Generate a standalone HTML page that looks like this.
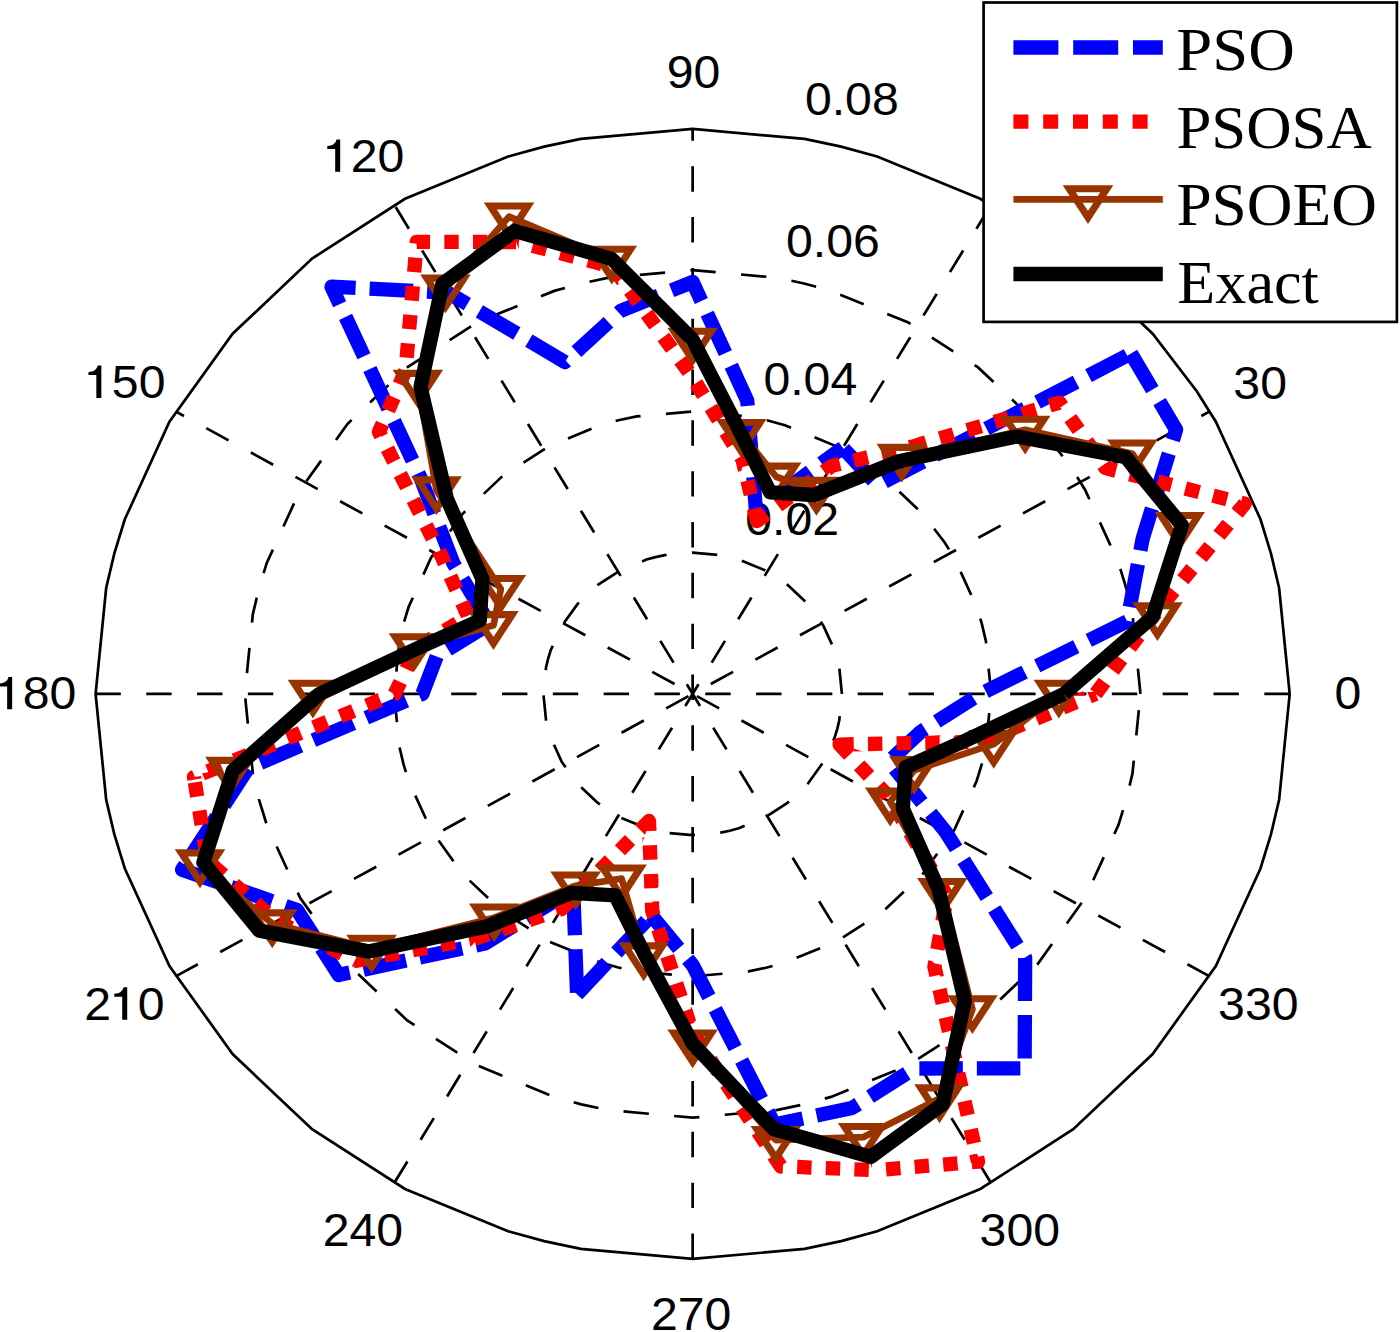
<!DOCTYPE html><html><head><meta charset="utf-8"><style>html,body{margin:0;padding:0;background:#fff;overflow:hidden}svg{display:block}</style></head><body>
<svg width="1400" height="1332" viewBox="0 0 1400 1332">
<rect width="1400" height="1332" fill="#fff"/>
<defs><clipPath id="rc0"><polygon points="692.65,693.90 2483.78,702.77 2482.29,624.40 2476.98,546.17 2467.86,468.26 2454.94,390.83"/></clipPath><clipPath id="rc1"><polygon points="692.65,693.90 2458.19,408.31 2442.35,331.37 2422.77,255.20 2399.48,179.97 2372.55,105.84"/></clipPath><clipPath id="rc2"><polygon points="692.65,693.90 2378.96,122.52 2349.25,49.35 2315.98,-22.44 2279.25,-92.70 2239.12,-161.27"/></clipPath><clipPath id="rc3"><polygon points="692.65,693.90 2248.50,-145.90 2205.80,-213.08 2159.87,-278.31 2110.81,-341.47 2058.70,-402.41"/></clipPath><clipPath id="rc4"><polygon points="692.65,693.90 2070.76,-388.81 2016.39,-447.95 1959.18,-504.65 1899.27,-558.78 1836.78,-610.23"/></clipPath><clipPath id="rc5"><polygon points="692.65,693.90 1851.15,-598.82 1786.75,-648.13 1720.01,-694.56 1651.08,-738.03 1580.09,-778.43"/></clipPath><clipPath id="rc6"><polygon points="692.65,693.90 1596.33,-769.56 1519.73,-809.58 1441.15,-846.01 1360.78,-878.76 1278.82,-907.77"/></clipPath><clipPath id="rc7"><polygon points="692.65,693.90 1296.51,-901.87 1232.65,-922.24 1168.02,-940.31 1102.72,-956.08 1036.84,-969.51"/></clipPath><clipPath id="rc8"><polygon points="692.65,693.90 1055.23,-966.01 963.09,-981.67 870.22,-992.75 776.86,-999.23 683.27,-1001.08"/></clipPath><clipPath id="rc9"><polygon points="692.65,693.90 702.03,-1001.08 619.21,-999.67 536.54,-994.65 454.21,-986.01 372.39,-973.79"/></clipPath><clipPath id="rc10"><polygon points="692.65,693.90 390.86,-976.87 309.55,-961.88 229.07,-943.34 149.57,-921.31 71.24,-895.82"/></clipPath><clipPath id="rc11"><polygon points="692.65,693.90 88.86,-901.89 11.54,-873.77 -64.32,-842.29 -138.57,-807.53 -211.03,-769.56"/></clipPath><clipPath id="rc12"><polygon points="692.65,693.90 -194.79,-778.43 -265.78,-738.03 -334.71,-694.56 -401.45,-648.13 -465.85,-598.82"/></clipPath><clipPath id="rc13"><polygon points="692.65,693.90 -451.48,-610.23 -505.72,-565.85 -558.04,-519.45 -608.36,-471.11 -656.59,-420.89"/></clipPath><clipPath id="rc14"><polygon points="692.65,693.90 -644.18,-434.20 -704.86,-366.31 -761.69,-295.49 -814.52,-221.96 -863.20,-145.90"/></clipPath><clipPath id="rc15"><polygon points="692.65,693.90 -853.82,-161.27 -893.95,-92.70 -930.68,-22.44 -963.95,49.35 -993.66,122.52"/></clipPath><clipPath id="rc16"><polygon points="692.65,693.90 -987.25,105.84 -1014.18,179.97 -1037.47,255.20 -1057.05,331.37 -1072.89,408.31"/></clipPath><clipPath id="rc17"><polygon points="692.65,693.90 -1069.64,390.83 -1082.56,468.26 -1091.68,546.17 -1096.99,624.40 -1098.48,702.77"/></clipPath><clipPath id="rc18"><polygon points="692.65,693.90 -1098.48,685.03 -1096.99,763.40 -1091.68,841.63 -1082.56,919.54 -1069.64,996.97"/></clipPath><clipPath id="rc19"><polygon points="692.65,693.90 -1072.89,979.49 -1057.05,1056.43 -1037.47,1132.60 -1014.18,1207.83 -987.25,1281.96"/></clipPath><clipPath id="rc20"><polygon points="692.65,693.90 -993.66,1265.28 -963.95,1338.45 -930.68,1410.24 -893.95,1480.50 -853.82,1549.07"/></clipPath><clipPath id="rc21"><polygon points="692.65,693.90 -863.20,1533.70 -820.50,1600.88 -774.57,1666.11 -725.51,1729.27 -673.40,1790.21"/></clipPath><clipPath id="rc22"><polygon points="692.65,693.90 -685.46,1776.61 -631.09,1835.75 -573.88,1892.45 -513.97,1946.58 -451.48,1998.03"/></clipPath><clipPath id="rc23"><polygon points="692.65,693.90 -465.85,1986.62 -401.45,2035.93 -334.71,2082.36 -265.78,2125.83 -194.79,2166.23"/></clipPath><clipPath id="rc24"><polygon points="692.65,693.90 -211.03,2157.36 -124.72,2202.12 -35.93,2242.34 55.05,2277.87 147.97,2308.63"/></clipPath><clipPath id="rc25"><polygon points="692.65,693.90 130.13,2303.14 194.35,2321.99 259.27,2338.54 324.81,2352.77 390.86,2364.67"/></clipPath><clipPath id="rc26"><polygon points="692.65,693.90 372.39,2361.59 454.21,2373.81 536.54,2382.45 619.21,2387.47 702.03,2388.88"/></clipPath><clipPath id="rc27"><polygon points="692.65,693.90 683.27,2388.88 766.09,2387.47 848.76,2382.45 931.09,2373.81 1012.91,2361.59"/></clipPath><clipPath id="rc28"><polygon points="692.65,693.90 994.44,2364.67 1075.75,2349.68 1156.23,2331.14 1235.73,2309.11 1314.06,2283.62"/></clipPath><clipPath id="rc29"><polygon points="692.65,693.90 1296.44,2289.69 1373.76,2261.57 1449.62,2230.09 1523.87,2195.33 1596.33,2157.36"/></clipPath><clipPath id="rc30"><polygon points="692.65,693.90 1580.09,2166.23 1651.08,2125.83 1720.01,2082.36 1786.75,2035.93 1851.15,1986.62"/></clipPath><clipPath id="rc31"><polygon points="692.65,693.90 1836.78,1998.03 1899.27,1946.58 1959.18,1892.45 2016.39,1835.75 2070.76,1776.61"/></clipPath><clipPath id="rc32"><polygon points="692.65,693.90 2058.70,1790.21 2115.45,1723.55 2168.57,1654.26 2217.92,1582.52 2263.38,1508.51"/></clipPath><clipPath id="rc33"><polygon points="692.65,693.90 2254.28,1524.04 2289.73,1461.26 2322.37,1397.13 2352.13,1331.77 2378.96,1265.28"/></clipPath><clipPath id="rc34"><polygon points="692.65,693.90 2372.55,1281.96 2399.48,1207.83 2422.77,1132.60 2442.35,1056.43 2458.19,979.49"/></clipPath><clipPath id="rc35"><polygon points="692.65,693.90 2454.94,996.97 2467.86,919.54 2476.98,841.63 2482.29,763.40 2483.78,685.03"/></clipPath></defs>
<polyline points="1289.70,693.90 1279.12,588.03 1270.94,553.39 1260.48,519.31 1215.85,421.71 1196.76,391.16 1152.68,333.76 1073.22,258.56 980.28,198.79 877.15,156.55 841.13,146.65 804.53,138.91 692.65,128.90 580.77,138.91 544.17,146.65 508.15,156.55 405.02,198.79 312.08,258.56 232.62,333.76 169.45,421.71 124.82,519.31 114.36,553.39 106.18,588.03 95.60,693.90 106.18,799.77 114.36,834.41 124.82,868.49 169.45,966.09 232.62,1054.04 312.08,1129.24 405.02,1189.01 508.15,1231.25 544.17,1241.15 580.77,1248.89 692.65,1258.90 804.53,1248.89 841.13,1241.15 877.15,1231.25 980.28,1189.01 1073.22,1129.24 1152.68,1054.04 1215.85,966.09 1260.48,868.49 1270.94,834.41 1279.12,799.77 1289.70,693.90" fill="#fff" stroke="#000" stroke-width="2.7"/>
<polyline points="841.91,693.90 839.27,667.43 837.22,658.77 834.61,650.25 823.45,625.85 818.68,618.21 807.66,603.86 787.79,585.07 764.56,570.12 738.77,559.56 729.77,557.09 720.62,555.15 692.65,552.65 664.68,555.15 655.53,557.09 646.53,559.56 620.74,570.12 597.51,585.07 577.64,603.86 561.85,625.85 550.69,650.25 548.08,658.77 546.03,667.43 543.39,693.90 546.03,720.37 548.08,729.03 550.69,737.55 561.85,761.95 577.64,783.94 597.51,802.73 620.74,817.68 646.53,828.24 655.53,830.71 664.68,832.65 692.65,835.15 720.62,832.65 729.77,830.71 738.77,828.24 764.56,817.68 787.79,802.73 807.66,783.94 823.45,761.95 834.61,737.55 837.22,729.03 839.27,720.37 841.91,693.90" fill="none" stroke="#000" stroke-width="2.7" stroke-dasharray="25.41 25.41"/>
<polyline points="991.17,693.90 985.89,640.96 981.80,623.65 976.56,606.60 954.25,557.80 944.70,542.53 922.67,513.83 882.94,476.23 836.47,446.34 784.90,425.23 766.89,420.28 748.59,416.40 692.65,411.40 636.71,416.40 618.41,420.28 600.40,425.23 548.83,446.34 502.36,476.23 462.63,513.83 431.05,557.80 408.74,606.60 403.50,623.65 399.41,640.96 394.12,693.90 399.41,746.84 403.50,764.15 408.74,781.20 431.05,830.00 462.63,873.97 502.36,911.57 548.83,941.46 600.40,962.57 618.41,967.52 636.71,971.40 692.65,976.40 748.59,971.40 766.89,967.52 784.90,962.57 836.47,941.46 882.94,911.57 922.67,873.97 954.25,830.00 976.56,781.20 981.80,764.15 985.89,746.84 991.17,693.90" fill="none" stroke="#000" stroke-width="2.7" stroke-dasharray="25.41 25.41"/>
<polyline points="1140.44,693.90 1132.51,614.50 1126.37,588.52 1118.52,562.95 1085.05,489.76 1070.73,466.84 1037.68,423.79 978.08,367.40 908.37,322.57 831.02,290.89 804.01,283.46 776.56,277.66 692.65,270.15 608.74,277.66 581.29,283.46 554.28,290.89 476.93,322.57 407.22,367.40 347.62,423.79 300.25,489.76 266.78,562.95 258.93,588.52 252.79,614.50 244.86,693.90 252.79,773.30 258.93,799.28 266.78,824.85 300.25,898.04 347.62,964.01 407.22,1020.40 476.93,1065.23 554.28,1096.91 581.29,1104.34 608.74,1110.14 692.65,1117.65 776.56,1110.14 804.01,1104.34 831.02,1096.91 908.37,1065.23 978.08,1020.40 1037.68,964.01 1085.05,898.04 1118.52,824.85 1126.37,799.28 1132.51,773.30 1140.44,693.90" fill="none" stroke="#000" stroke-width="2.7" stroke-dasharray="25.41 25.41"/>
<line x1="175.59" y1="976.40" x2="1209.71" y2="411.40" stroke="#000" stroke-width="2.7" stroke-dasharray="25.41 25.41"/>
<line x1="394.12" y1="1183.20" x2="991.17" y2="204.60" stroke="#000" stroke-width="2.7" stroke-dasharray="25.41 25.41"/>
<line x1="692.65" y1="1258.90" x2="692.65" y2="128.90" stroke="#000" stroke-width="2.7" stroke-dasharray="25.41 25.41"/>
<line x1="991.17" y1="1183.20" x2="394.13" y2="204.60" stroke="#000" stroke-width="2.7" stroke-dasharray="25.41 25.41"/>
<line x1="1209.71" y1="976.40" x2="175.59" y2="411.40" stroke="#000" stroke-width="2.7" stroke-dasharray="25.41 25.41"/>
<line x1="1289.70" y1="693.90" x2="95.60" y2="693.90" stroke="#000" stroke-width="2.7" stroke-dasharray="25.41 25.41"/>
<g transform="translate(747.1,535.0) scale(1.025,1) translate(-747.1,-535.0)">
<text x="745.26" y="535.00" font-family="Liberation Sans, sans-serif" font-size="47.0">0</text>
<text x="771.40" y="535.00" font-family="Liberation Sans, sans-serif" font-size="47.0">.</text>
<text x="784.46" y="535.00" font-family="Liberation Sans, sans-serif" font-size="47.0">0</text>
<text x="810.60" y="535.00" font-family="Liberation Sans, sans-serif" font-size="47.0">2</text>
</g>
<g transform="translate(765.3,394.6) scale(1.025,1) translate(-765.3,-394.6)">
<text x="763.46" y="394.60" font-family="Liberation Sans, sans-serif" font-size="47.0">0</text>
<text x="789.60" y="394.60" font-family="Liberation Sans, sans-serif" font-size="47.0">.</text>
<text x="802.66" y="394.60" font-family="Liberation Sans, sans-serif" font-size="47.0">0</text>
<text x="828.80" y="394.60" font-family="Liberation Sans, sans-serif" font-size="47.0">4</text>
</g>
<g transform="translate(787.9,256.7) scale(1.025,1) translate(-787.9,-256.7)">
<text x="786.06" y="256.70" font-family="Liberation Sans, sans-serif" font-size="47.0">0</text>
<text x="812.20" y="256.70" font-family="Liberation Sans, sans-serif" font-size="47.0">.</text>
<text x="825.26" y="256.70" font-family="Liberation Sans, sans-serif" font-size="47.0">0</text>
<text x="851.40" y="256.70" font-family="Liberation Sans, sans-serif" font-size="47.0">6</text>
</g>
<g transform="translate(806.8,115.5) scale(1.025,1) translate(-806.8,-115.5)">
<text x="804.96" y="115.50" font-family="Liberation Sans, sans-serif" font-size="47.0">0</text>
<text x="831.10" y="115.50" font-family="Liberation Sans, sans-serif" font-size="47.0">.</text>
<text x="844.16" y="115.50" font-family="Liberation Sans, sans-serif" font-size="47.0">0</text>
<text x="870.30" y="115.50" font-family="Liberation Sans, sans-serif" font-size="47.0">8</text>
</g>
<g transform="translate(1347.85,709.2) scale(1.025,1) translate(-1347.85,-709.2)">
<text x="1334.78" y="709.20" font-family="Liberation Sans, sans-serif" font-size="47.0">0</text>
</g>
<g transform="translate(1260.15,398.6) scale(1.025,1) translate(-1260.15,-398.6)">
<text x="1234.03" y="398.60" font-family="Liberation Sans, sans-serif" font-size="47.0">3</text>
<text x="1260.18" y="398.60" font-family="Liberation Sans, sans-serif" font-size="47.0">0</text>
</g>
<g transform="translate(1021.0275,170.96521154797136) scale(1.025,1) translate(-1021.0275,-170.96521154797136)">
<text x="994.61" y="170.97" font-family="Liberation Sans, sans-serif" font-size="47.0">6</text>
<text x="1020.75" y="170.97" font-family="Liberation Sans, sans-serif" font-size="47.0">0</text>
</g>
<g transform="translate(693.65,87.7) scale(1.025,1) translate(-693.65,-87.7)">
<text x="667.33" y="87.70" font-family="Liberation Sans, sans-serif" font-size="47.0">9</text>
<text x="693.47" y="87.70" font-family="Liberation Sans, sans-serif" font-size="47.0">0</text>
</g>
<g transform="translate(364.85,171.8) scale(1.025,1) translate(-364.85,-171.8)">
<path d="M0.338,0 L0.338,0.689 L0.262,0.689 C0.240,0.600 0.180,0.555 0.070,0.550 L0.070,0.487 L0.234,0.487 L0.234,0 Z" transform="translate(324.91,171.80) scale(47.0,-47.0)"/>
<text x="351.06" y="171.80" font-family="Liberation Sans, sans-serif" font-size="47.0">2</text>
<text x="377.20" y="171.80" font-family="Liberation Sans, sans-serif" font-size="47.0">0</text>
</g>
<g transform="translate(126.0,398.0) scale(1.025,1) translate(-126.0,-398.0)">
<path d="M0.338,0 L0.338,0.689 L0.262,0.689 C0.240,0.600 0.180,0.555 0.070,0.550 L0.070,0.487 L0.234,0.487 L0.234,0 Z" transform="translate(86.06,398.00) scale(47.0,-47.0)"/>
<text x="112.21" y="398.00" font-family="Liberation Sans, sans-serif" font-size="47.0">5</text>
<text x="138.35" y="398.00" font-family="Liberation Sans, sans-serif" font-size="47.0">0</text>
</g>
<g transform="translate(36.8,709.3) scale(1.025,1) translate(-36.8,-709.3)">
<path d="M0.338,0 L0.338,0.689 L0.262,0.689 C0.240,0.600 0.180,0.555 0.070,0.550 L0.070,0.487 L0.234,0.487 L0.234,0 Z" transform="translate(-3.14,709.30) scale(47.0,-47.0)"/>
<text x="23.01" y="709.30" font-family="Liberation Sans, sans-serif" font-size="47.0">8</text>
<text x="49.15" y="709.30" font-family="Liberation Sans, sans-serif" font-size="47.0">0</text>
</g>
<g transform="translate(124.6,1019.7) scale(1.025,1) translate(-124.6,-1019.7)">
<text x="85.13" y="1019.70" font-family="Liberation Sans, sans-serif" font-size="47.0">2</text>
<path d="M0.338,0 L0.338,0.689 L0.262,0.689 C0.240,0.600 0.180,0.555 0.070,0.550 L0.070,0.487 L0.234,0.487 L0.234,0 Z" transform="translate(111.27,1019.70) scale(47.0,-47.0)"/>
<text x="137.41" y="1019.70" font-family="Liberation Sans, sans-serif" font-size="47.0">0</text>
</g>
<g transform="translate(363.2,1246.0) scale(1.025,1) translate(-363.2,-1246.0)">
<text x="323.73" y="1246.00" font-family="Liberation Sans, sans-serif" font-size="47.0">2</text>
<text x="349.87" y="1246.00" font-family="Liberation Sans, sans-serif" font-size="47.0">4</text>
<text x="376.01" y="1246.00" font-family="Liberation Sans, sans-serif" font-size="47.0">0</text>
</g>
<g transform="translate(691.5,1330.0) scale(1.025,1) translate(-691.5,-1330.0)">
<text x="652.03" y="1330.00" font-family="Liberation Sans, sans-serif" font-size="47.0">2</text>
<text x="678.17" y="1330.00" font-family="Liberation Sans, sans-serif" font-size="47.0">7</text>
<text x="704.31" y="1330.00" font-family="Liberation Sans, sans-serif" font-size="47.0">0</text>
</g>
<g transform="translate(1019.8,1246.3) scale(1.025,1) translate(-1019.8,-1246.3)">
<text x="980.61" y="1246.30" font-family="Liberation Sans, sans-serif" font-size="47.0">3</text>
<text x="1006.76" y="1246.30" font-family="Liberation Sans, sans-serif" font-size="47.0">0</text>
<text x="1032.90" y="1246.30" font-family="Liberation Sans, sans-serif" font-size="47.0">0</text>
</g>
<g transform="translate(1258.3,1020.2) scale(1.025,1) translate(-1258.3,-1020.2)">
<text x="1219.11" y="1020.20" font-family="Liberation Sans, sans-serif" font-size="47.0">3</text>
<text x="1245.26" y="1020.20" font-family="Liberation Sans, sans-serif" font-size="47.0">3</text>
<text x="1271.40" y="1020.20" font-family="Liberation Sans, sans-serif" font-size="47.0">0</text>
</g>
<polyline points="1131.00,353.50 877.63,485.28 842.81,447.78" fill="none" stroke="#0000ff" stroke-width="14.3" stroke-dasharray="43.5 14.0" stroke-dashoffset="-4.40" stroke-linejoin="round"/>
<polyline points="842.81,447.78 756.00,511.00 747.29,400.67 692.65,282.01 621.22,310.53 565.02,362.07 447.86,292.67 331.52,286.62 420.52,477.81 453.25,563.10 489.55,623.95 436.70,656.50" fill="none" stroke="#0000ff" stroke-width="14.3" stroke-dasharray="43.5 14.0" stroke-dashoffset="17.10" stroke-linejoin="round"/>
<polyline points="436.70,656.50 422.37,693.90 248.14,768.07 182.10,869.75 297.10,910.01 338.65,975.00 484.80,943.60 573.24,889.62 577.07,994.40" fill="none" stroke="#0000ff" stroke-width="14.3" stroke-dasharray="43.5 14.0" stroke-dashoffset="0.00" stroke-linejoin="round"/>
<polyline points="577.07,994.40 651.39,915.35" fill="none" stroke="#0000ff" stroke-width="14.3" stroke-dasharray="43.5 14.0" stroke-dashoffset="0.00" stroke-linejoin="round"/>
<polyline points="651.39,915.35 692.65,965.10 774.50,1124.50 851.93,1108.02 914.50,1068.50 1024.62,1068.29 1025.16,957.93 946.01,832.33 889.02,761.53 920.49,731.92 980.43,693.90 1127.17,621.40 1142.61,538.92 1176.10,429.76 1131.00,353.50" fill="none" stroke="#0000ff" stroke-width="14.3" stroke-dasharray="43.5 14.0" stroke-dashoffset="0.65" stroke-linejoin="round"/>
<polyline clip-path="url(#rc0)" points="1095.66,693.90 1152.45,617.18 1244.72,503.75 1105.78,468.18 1059.46,402.63 911.79,446.76 831.76,465.88 757.00,521.00 742.50,459.50 692.65,377.50 613.13,267.13 518.87,242.08 416.81,241.78 405.59,370.15 379.00,432.00 441.88,556.89 468.23,616.60 416.30,647.79 394.72,693.90 194.04,777.10 207.35,861.05 276.67,921.17 356.49,960.83 475.82,938.44 561.30,909.19 649.00,821.00 652.22,910.90 692.65,1032.90 780.67,1166.30 875.82,1170.14 978.04,1161.67 934.43,966.57 946.95,895.83 889.00,797.00 839.64,744.53 980.17,741.88 1095.66,693.90" fill="none" stroke="#ff0000" stroke-width="14.3" stroke-dasharray="14.4 14.25" stroke-dashoffset="-0.40" stroke-linejoin="round"/>
<polyline clip-path="url(#rc1)" points="1095.66,693.90 1152.45,617.18 1244.72,503.75 1105.78,468.18 1059.46,402.63 911.79,446.76 831.76,465.88 757.00,521.00 742.50,459.50 692.65,377.50 613.13,267.13 518.87,242.08 416.81,241.78 405.59,370.15 379.00,432.00 441.88,556.89 468.23,616.60 416.30,647.79 394.72,693.90 194.04,777.10 207.35,861.05 276.67,921.17 356.49,960.83 475.82,938.44 561.30,909.19 649.00,821.00 652.22,910.90 692.65,1032.90 780.67,1166.30 875.82,1170.14 978.04,1161.67 934.43,966.57 946.95,895.83 889.00,797.00 839.64,744.53 980.17,741.88 1095.66,693.90" fill="none" stroke="#ff0000" stroke-width="14.3" stroke-dasharray="14.4 14.25" stroke-dashoffset="-0.40" stroke-linejoin="round"/>
<polyline clip-path="url(#rc2)" points="1095.66,693.90 1152.45,617.18 1244.72,503.75 1105.78,468.18 1059.46,402.63 911.79,446.76 831.76,465.88 757.00,521.00 742.50,459.50 692.65,377.50 613.13,267.13 518.87,242.08 416.81,241.78 405.59,370.15 379.00,432.00 441.88,556.89 468.23,616.60 416.30,647.79 394.72,693.90 194.04,777.10 207.35,861.05 276.67,921.17 356.49,960.83 475.82,938.44 561.30,909.19 649.00,821.00 652.22,910.90 692.65,1032.90 780.67,1166.30 875.82,1170.14 978.04,1161.67 934.43,966.57 946.95,895.83 889.00,797.00 839.64,744.53 980.17,741.88 1095.66,693.90" fill="none" stroke="#ff0000" stroke-width="14.3" stroke-dasharray="14.4 14.25" stroke-dashoffset="-2.10" stroke-linejoin="round"/>
<polyline clip-path="url(#rc3)" points="1095.66,693.90 1152.45,617.18 1244.72,503.75 1105.78,468.18 1059.46,402.63 911.79,446.76 831.76,465.88 757.00,521.00 742.50,459.50 692.65,377.50 613.13,267.13 518.87,242.08 416.81,241.78 405.59,370.15 379.00,432.00 441.88,556.89 468.23,616.60 416.30,647.79 394.72,693.90 194.04,777.10 207.35,861.05 276.67,921.17 356.49,960.83 475.82,938.44 561.30,909.19 649.00,821.00 652.22,910.90 692.65,1032.90 780.67,1166.30 875.82,1170.14 978.04,1161.67 934.43,966.57 946.95,895.83 889.00,797.00 839.64,744.53 980.17,741.88 1095.66,693.90" fill="none" stroke="#ff0000" stroke-width="14.3" stroke-dasharray="14.4 14.25" stroke-dashoffset="-2.30" stroke-linejoin="round"/>
<polyline clip-path="url(#rc4)" points="1095.66,693.90 1152.45,617.18 1244.72,503.75 1105.78,468.18 1059.46,402.63 911.79,446.76 831.76,465.88 757.00,521.00 742.50,459.50 692.65,377.50 613.13,267.13 518.87,242.08 416.81,241.78 405.59,370.15 379.00,432.00 441.88,556.89 468.23,616.60 416.30,647.79 394.72,693.90 194.04,777.10 207.35,861.05 276.67,921.17 356.49,960.83 475.82,938.44 561.30,909.19 649.00,821.00 652.22,910.90 692.65,1032.90 780.67,1166.30 875.82,1170.14 978.04,1161.67 934.43,966.57 946.95,895.83 889.00,797.00 839.64,744.53 980.17,741.88 1095.66,693.90" fill="none" stroke="#ff0000" stroke-width="14.3" stroke-dasharray="14.4 14.25" stroke-dashoffset="-2.80" stroke-linejoin="round"/>
<polyline clip-path="url(#rc5)" points="1095.66,693.90 1152.45,617.18 1244.72,503.75 1105.78,468.18 1059.46,402.63 911.79,446.76 831.76,465.88 757.00,521.00 742.50,459.50 692.65,377.50 613.13,267.13 518.87,242.08 416.81,241.78 405.59,370.15 379.00,432.00 441.88,556.89 468.23,616.60 416.30,647.79 394.72,693.90 194.04,777.10 207.35,861.05 276.67,921.17 356.49,960.83 475.82,938.44 561.30,909.19 649.00,821.00 652.22,910.90 692.65,1032.90 780.67,1166.30 875.82,1170.14 978.04,1161.67 934.43,966.57 946.95,895.83 889.00,797.00 839.64,744.53 980.17,741.88 1095.66,693.90" fill="none" stroke="#ff0000" stroke-width="14.3" stroke-dasharray="14.4 14.25" stroke-dashoffset="-5.70" stroke-linejoin="round"/>
<polyline clip-path="url(#rc6)" points="1095.66,693.90 1152.45,617.18 1244.72,503.75 1105.78,468.18 1059.46,402.63 911.79,446.76 831.76,465.88 757.00,521.00 742.50,459.50 692.65,377.50 613.13,267.13 518.87,242.08 416.81,241.78 405.59,370.15 379.00,432.00 441.88,556.89 468.23,616.60 416.30,647.79 394.72,693.90 194.04,777.10 207.35,861.05 276.67,921.17 356.49,960.83 475.82,938.44 561.30,909.19 649.00,821.00 652.22,910.90 692.65,1032.90 780.67,1166.30 875.82,1170.14 978.04,1161.67 934.43,966.57 946.95,895.83 889.00,797.00 839.64,744.53 980.17,741.88 1095.66,693.90" fill="none" stroke="#ff0000" stroke-width="14.3" stroke-dasharray="14.4 14.25" stroke-dashoffset="-9.30" stroke-linejoin="round"/>
<polyline clip-path="url(#rc7)" points="1095.66,693.90 1152.45,617.18 1244.72,503.75 1105.78,468.18 1059.46,402.63 911.79,446.76 831.76,465.88 757.00,521.00 742.50,459.50 692.65,377.50 613.13,267.13 518.87,242.08 416.81,241.78 405.59,370.15 379.00,432.00 441.88,556.89 468.23,616.60 416.30,647.79 394.72,693.90 194.04,777.10 207.35,861.05 276.67,921.17 356.49,960.83 475.82,938.44 561.30,909.19 649.00,821.00 652.22,910.90 692.65,1032.90 780.67,1166.30 875.82,1170.14 978.04,1161.67 934.43,966.57 946.95,895.83 889.00,797.00 839.64,744.53 980.17,741.88 1095.66,693.90" fill="none" stroke="#ff0000" stroke-width="14.3" stroke-dasharray="14.4 14.25" stroke-dashoffset="-19.55" stroke-linejoin="round"/>
<polyline clip-path="url(#rc8)" points="1095.66,693.90 1152.45,617.18 1244.72,503.75 1105.78,468.18 1059.46,402.63 911.79,446.76 831.76,465.88 757.00,521.00 742.50,459.50 692.65,377.50 613.13,267.13 518.87,242.08 416.81,241.78 405.59,370.15 379.00,432.00 441.88,556.89 468.23,616.60 416.30,647.79 394.72,693.90 194.04,777.10 207.35,861.05 276.67,921.17 356.49,960.83 475.82,938.44 561.30,909.19 649.00,821.00 652.22,910.90 692.65,1032.90 780.67,1166.30 875.82,1170.14 978.04,1161.67 934.43,966.57 946.95,895.83 889.00,797.00 839.64,744.53 980.17,741.88 1095.66,693.90" fill="none" stroke="#ff0000" stroke-width="14.3" stroke-dasharray="14.4 14.25" stroke-dashoffset="-16.15" stroke-linejoin="round"/>
<polyline clip-path="url(#rc9)" points="1095.66,693.90 1152.45,617.18 1244.72,503.75 1105.78,468.18 1059.46,402.63 911.79,446.76 831.76,465.88 757.00,521.00 742.50,459.50 692.65,377.50 613.13,267.13 518.87,242.08 416.81,241.78 405.59,370.15 379.00,432.00 441.88,556.89 468.23,616.60 416.30,647.79 394.72,693.90 194.04,777.10 207.35,861.05 276.67,921.17 356.49,960.83 475.82,938.44 561.30,909.19 649.00,821.00 652.22,910.90 692.65,1032.90 780.67,1166.30 875.82,1170.14 978.04,1161.67 934.43,966.57 946.95,895.83 889.00,797.00 839.64,744.53 980.17,741.88 1095.66,693.90" fill="none" stroke="#ff0000" stroke-width="14.3" stroke-dasharray="14.4 14.25" stroke-dashoffset="-15.25" stroke-linejoin="round"/>
<polyline clip-path="url(#rc10)" points="1095.66,693.90 1152.45,617.18 1244.72,503.75 1105.78,468.18 1059.46,402.63 911.79,446.76 831.76,465.88 757.00,521.00 742.50,459.50 692.65,377.50 613.13,267.13 518.87,242.08 416.81,241.78 405.59,370.15 379.00,432.00 441.88,556.89 468.23,616.60 416.30,647.79 394.72,693.90 194.04,777.10 207.35,861.05 276.67,921.17 356.49,960.83 475.82,938.44 561.30,909.19 649.00,821.00 652.22,910.90 692.65,1032.90 780.67,1166.30 875.82,1170.14 978.04,1161.67 934.43,966.57 946.95,895.83 889.00,797.00 839.64,744.53 980.17,741.88 1095.66,693.90" fill="none" stroke="#ff0000" stroke-width="14.3" stroke-dasharray="14.4 14.25" stroke-dashoffset="-12.70" stroke-linejoin="round"/>
<polyline clip-path="url(#rc11)" points="1095.66,693.90 1152.45,617.18 1244.72,503.75 1105.78,468.18 1059.46,402.63 911.79,446.76 831.76,465.88 757.00,521.00 742.50,459.50 692.65,377.50 613.13,267.13 518.87,242.08 416.81,241.78 405.59,370.15 379.00,432.00 441.88,556.89 468.23,616.60 416.30,647.79 394.72,693.90 194.04,777.10 207.35,861.05 276.67,921.17 356.49,960.83 475.82,938.44 561.30,909.19 649.00,821.00 652.22,910.90 692.65,1032.90 780.67,1166.30 875.82,1170.14 978.04,1161.67 934.43,966.57 946.95,895.83 889.00,797.00 839.64,744.53 980.17,741.88 1095.66,693.90" fill="none" stroke="#ff0000" stroke-width="14.3" stroke-dasharray="14.4 14.25" stroke-dashoffset="-15.55" stroke-linejoin="round"/>
<polyline clip-path="url(#rc12)" points="1095.66,693.90 1152.45,617.18 1244.72,503.75 1105.78,468.18 1059.46,402.63 911.79,446.76 831.76,465.88 757.00,521.00 742.50,459.50 692.65,377.50 613.13,267.13 518.87,242.08 416.81,241.78 405.59,370.15 379.00,432.00 441.88,556.89 468.23,616.60 416.30,647.79 394.72,693.90 194.04,777.10 207.35,861.05 276.67,921.17 356.49,960.83 475.82,938.44 561.30,909.19 649.00,821.00 652.22,910.90 692.65,1032.90 780.67,1166.30 875.82,1170.14 978.04,1161.67 934.43,966.57 946.95,895.83 889.00,797.00 839.64,744.53 980.17,741.88 1095.66,693.90" fill="none" stroke="#ff0000" stroke-width="14.3" stroke-dasharray="14.4 14.25" stroke-dashoffset="-16.15" stroke-linejoin="round"/>
<polyline clip-path="url(#rc13)" points="1095.66,693.90 1152.45,617.18 1244.72,503.75 1105.78,468.18 1059.46,402.63 911.79,446.76 831.76,465.88 757.00,521.00 742.50,459.50 692.65,377.50 613.13,267.13 518.87,242.08 416.81,241.78 405.59,370.15 379.00,432.00 441.88,556.89 468.23,616.60 416.30,647.79 394.72,693.90 194.04,777.10 207.35,861.05 276.67,921.17 356.49,960.83 475.82,938.44 561.30,909.19 649.00,821.00 652.22,910.90 692.65,1032.90 780.67,1166.30 875.82,1170.14 978.04,1161.67 934.43,966.57 946.95,895.83 889.00,797.00 839.64,744.53 980.17,741.88 1095.66,693.90" fill="none" stroke="#ff0000" stroke-width="14.3" stroke-dasharray="14.4 14.25" stroke-dashoffset="-15.35" stroke-linejoin="round"/>
<polyline clip-path="url(#rc14)" points="1095.66,693.90 1152.45,617.18 1244.72,503.75 1105.78,468.18 1059.46,402.63 911.79,446.76 831.76,465.88 757.00,521.00 742.50,459.50 692.65,377.50 613.13,267.13 518.87,242.08 416.81,241.78 405.59,370.15 379.00,432.00 441.88,556.89 468.23,616.60 416.30,647.79 394.72,693.90 194.04,777.10 207.35,861.05 276.67,921.17 356.49,960.83 475.82,938.44 561.30,909.19 649.00,821.00 652.22,910.90 692.65,1032.90 780.67,1166.30 875.82,1170.14 978.04,1161.67 934.43,966.57 946.95,895.83 889.00,797.00 839.64,744.53 980.17,741.88 1095.66,693.90" fill="none" stroke="#ff0000" stroke-width="14.3" stroke-dasharray="14.4 14.25" stroke-dashoffset="-14.50" stroke-linejoin="round"/>
<polyline clip-path="url(#rc15)" points="1095.66,693.90 1152.45,617.18 1244.72,503.75 1105.78,468.18 1059.46,402.63 911.79,446.76 831.76,465.88 757.00,521.00 742.50,459.50 692.65,377.50 613.13,267.13 518.87,242.08 416.81,241.78 405.59,370.15 379.00,432.00 441.88,556.89 468.23,616.60 416.30,647.79 394.72,693.90 194.04,777.10 207.35,861.05 276.67,921.17 356.49,960.83 475.82,938.44 561.30,909.19 649.00,821.00 652.22,910.90 692.65,1032.90 780.67,1166.30 875.82,1170.14 978.04,1161.67 934.43,966.57 946.95,895.83 889.00,797.00 839.64,744.53 980.17,741.88 1095.66,693.90" fill="none" stroke="#ff0000" stroke-width="14.3" stroke-dasharray="14.4 14.25" stroke-dashoffset="-13.66" stroke-linejoin="round"/>
<polyline clip-path="url(#rc16)" points="1095.66,693.90 1152.45,617.18 1244.72,503.75 1105.78,468.18 1059.46,402.63 911.79,446.76 831.76,465.88 757.00,521.00 742.50,459.50 692.65,377.50 613.13,267.13 518.87,242.08 416.81,241.78 405.59,370.15 379.00,432.00 441.88,556.89 468.23,616.60 416.30,647.79 394.72,693.90 194.04,777.10 207.35,861.05 276.67,921.17 356.49,960.83 475.82,938.44 561.30,909.19 649.00,821.00 652.22,910.90 692.65,1032.90 780.67,1166.30 875.82,1170.14 978.04,1161.67 934.43,966.57 946.95,895.83 889.00,797.00 839.64,744.53 980.17,741.88 1095.66,693.90" fill="none" stroke="#ff0000" stroke-width="14.3" stroke-dasharray="14.4 14.25" stroke-dashoffset="-13.15" stroke-linejoin="round"/>
<polyline clip-path="url(#rc17)" points="1095.66,693.90 1152.45,617.18 1244.72,503.75 1105.78,468.18 1059.46,402.63 911.79,446.76 831.76,465.88 757.00,521.00 742.50,459.50 692.65,377.50 613.13,267.13 518.87,242.08 416.81,241.78 405.59,370.15 379.00,432.00 441.88,556.89 468.23,616.60 416.30,647.79 394.72,693.90 194.04,777.10 207.35,861.05 276.67,921.17 356.49,960.83 475.82,938.44 561.30,909.19 649.00,821.00 652.22,910.90 692.65,1032.90 780.67,1166.30 875.82,1170.14 978.04,1161.67 934.43,966.57 946.95,895.83 889.00,797.00 839.64,744.53 980.17,741.88 1095.66,693.90" fill="none" stroke="#ff0000" stroke-width="14.3" stroke-dasharray="14.4 14.25" stroke-dashoffset="-12.69" stroke-linejoin="round"/>
<polyline clip-path="url(#rc18)" points="1095.66,693.90 1152.45,617.18 1244.72,503.75 1105.78,468.18 1059.46,402.63 911.79,446.76 831.76,465.88 757.00,521.00 742.50,459.50 692.65,377.50 613.13,267.13 518.87,242.08 416.81,241.78 405.59,370.15 379.00,432.00 441.88,556.89 468.23,616.60 416.30,647.79 394.72,693.90 194.04,777.10 207.35,861.05 276.67,921.17 356.49,960.83 475.82,938.44 561.30,909.19 649.00,821.00 652.22,910.90 692.65,1032.90 780.67,1166.30 875.82,1170.14 978.04,1161.67 934.43,966.57 946.95,895.83 889.00,797.00 839.64,744.53 980.17,741.88 1095.66,693.90" fill="none" stroke="#ff0000" stroke-width="14.3" stroke-dasharray="14.4 14.25" stroke-dashoffset="-13.10" stroke-linejoin="round"/>
<polyline clip-path="url(#rc19)" points="1095.66,693.90 1152.45,617.18 1244.72,503.75 1105.78,468.18 1059.46,402.63 911.79,446.76 831.76,465.88 757.00,521.00 742.50,459.50 692.65,377.50 613.13,267.13 518.87,242.08 416.81,241.78 405.59,370.15 379.00,432.00 441.88,556.89 468.23,616.60 416.30,647.79 394.72,693.90 194.04,777.10 207.35,861.05 276.67,921.17 356.49,960.83 475.82,938.44 561.30,909.19 649.00,821.00 652.22,910.90 692.65,1032.90 780.67,1166.30 875.82,1170.14 978.04,1161.67 934.43,966.57 946.95,895.83 889.00,797.00 839.64,744.53 980.17,741.88 1095.66,693.90" fill="none" stroke="#ff0000" stroke-width="14.3" stroke-dasharray="14.4 14.25" stroke-dashoffset="-19.28" stroke-linejoin="round"/>
<polyline clip-path="url(#rc20)" points="1095.66,693.90 1152.45,617.18 1244.72,503.75 1105.78,468.18 1059.46,402.63 911.79,446.76 831.76,465.88 757.00,521.00 742.50,459.50 692.65,377.50 613.13,267.13 518.87,242.08 416.81,241.78 405.59,370.15 379.00,432.00 441.88,556.89 468.23,616.60 416.30,647.79 394.72,693.90 194.04,777.10 207.35,861.05 276.67,921.17 356.49,960.83 475.82,938.44 561.30,909.19 649.00,821.00 652.22,910.90 692.65,1032.90 780.67,1166.30 875.82,1170.14 978.04,1161.67 934.43,966.57 946.95,895.83 889.00,797.00 839.64,744.53 980.17,741.88 1095.66,693.90" fill="none" stroke="#ff0000" stroke-width="14.3" stroke-dasharray="14.4 14.25" stroke-dashoffset="-19.79" stroke-linejoin="round"/>
<polyline clip-path="url(#rc21)" points="1095.66,693.90 1152.45,617.18 1244.72,503.75 1105.78,468.18 1059.46,402.63 911.79,446.76 831.76,465.88 757.00,521.00 742.50,459.50 692.65,377.50 613.13,267.13 518.87,242.08 416.81,241.78 405.59,370.15 379.00,432.00 441.88,556.89 468.23,616.60 416.30,647.79 394.72,693.90 194.04,777.10 207.35,861.05 276.67,921.17 356.49,960.83 475.82,938.44 561.30,909.19 649.00,821.00 652.22,910.90 692.65,1032.90 780.67,1166.30 875.82,1170.14 978.04,1161.67 934.43,966.57 946.95,895.83 889.00,797.00 839.64,744.53 980.17,741.88 1095.66,693.90" fill="none" stroke="#ff0000" stroke-width="14.3" stroke-dasharray="14.4 14.25" stroke-dashoffset="-20.30" stroke-linejoin="round"/>
<polyline clip-path="url(#rc22)" points="1095.66,693.90 1152.45,617.18 1244.72,503.75 1105.78,468.18 1059.46,402.63 911.79,446.76 831.76,465.88 757.00,521.00 742.50,459.50 692.65,377.50 613.13,267.13 518.87,242.08 416.81,241.78 405.59,370.15 379.00,432.00 441.88,556.89 468.23,616.60 416.30,647.79 394.72,693.90 194.04,777.10 207.35,861.05 276.67,921.17 356.49,960.83 475.82,938.44 561.30,909.19 649.00,821.00 652.22,910.90 692.65,1032.90 780.67,1166.30 875.82,1170.14 978.04,1161.67 934.43,966.57 946.95,895.83 889.00,797.00 839.64,744.53 980.17,741.88 1095.66,693.90" fill="none" stroke="#ff0000" stroke-width="14.3" stroke-dasharray="14.4 14.25" stroke-dashoffset="-21.85" stroke-linejoin="round"/>
<polyline clip-path="url(#rc23)" points="1095.66,693.90 1152.45,617.18 1244.72,503.75 1105.78,468.18 1059.46,402.63 911.79,446.76 831.76,465.88 757.00,521.00 742.50,459.50 692.65,377.50 613.13,267.13 518.87,242.08 416.81,241.78 405.59,370.15 379.00,432.00 441.88,556.89 468.23,616.60 416.30,647.79 394.72,693.90 194.04,777.10 207.35,861.05 276.67,921.17 356.49,960.83 475.82,938.44 561.30,909.19 649.00,821.00 652.22,910.90 692.65,1032.90 780.67,1166.30 875.82,1170.14 978.04,1161.67 934.43,966.57 946.95,895.83 889.00,797.00 839.64,744.53 980.17,741.88 1095.66,693.90" fill="none" stroke="#ff0000" stroke-width="14.3" stroke-dasharray="14.4 14.25" stroke-dashoffset="-27.75" stroke-linejoin="round"/>
<polyline clip-path="url(#rc24)" points="1095.66,693.90 1152.45,617.18 1244.72,503.75 1105.78,468.18 1059.46,402.63 911.79,446.76 831.76,465.88 757.00,521.00 742.50,459.50 692.65,377.50 613.13,267.13 518.87,242.08 416.81,241.78 405.59,370.15 379.00,432.00 441.88,556.89 468.23,616.60 416.30,647.79 394.72,693.90 194.04,777.10 207.35,861.05 276.67,921.17 356.49,960.83 475.82,938.44 561.30,909.19 649.00,821.00 652.22,910.90 692.65,1032.90 780.67,1166.30 875.82,1170.14 978.04,1161.67 934.43,966.57 946.95,895.83 889.00,797.00 839.64,744.53 980.17,741.88 1095.66,693.90" fill="none" stroke="#ff0000" stroke-width="14.3" stroke-dasharray="14.4 14.25" stroke-dashoffset="-30.35" stroke-linejoin="round"/>
<polyline clip-path="url(#rc25)" points="1095.66,693.90 1152.45,617.18 1244.72,503.75 1105.78,468.18 1059.46,402.63 911.79,446.76 831.76,465.88 757.00,521.00 742.50,459.50 692.65,377.50 613.13,267.13 518.87,242.08 416.81,241.78 405.59,370.15 379.00,432.00 441.88,556.89 468.23,616.60 416.30,647.79 394.72,693.90 194.04,777.10 207.35,861.05 276.67,921.17 356.49,960.83 475.82,938.44 561.30,909.19 649.00,821.00 652.22,910.90 692.65,1032.90 780.67,1166.30 875.82,1170.14 978.04,1161.67 934.43,966.57 946.95,895.83 889.00,797.00 839.64,744.53 980.17,741.88 1095.66,693.90" fill="none" stroke="#ff0000" stroke-width="14.3" stroke-dasharray="14.4 14.25" stroke-dashoffset="-38.65" stroke-linejoin="round"/>
<polyline clip-path="url(#rc26)" points="1095.66,693.90 1152.45,617.18 1244.72,503.75 1105.78,468.18 1059.46,402.63 911.79,446.76 831.76,465.88 757.00,521.00 742.50,459.50 692.65,377.50 613.13,267.13 518.87,242.08 416.81,241.78 405.59,370.15 379.00,432.00 441.88,556.89 468.23,616.60 416.30,647.79 394.72,693.90 194.04,777.10 207.35,861.05 276.67,921.17 356.49,960.83 475.82,938.44 561.30,909.19 649.00,821.00 652.22,910.90 692.65,1032.90 780.67,1166.30 875.82,1170.14 978.04,1161.67 934.43,966.57 946.95,895.83 889.00,797.00 839.64,744.53 980.17,741.88 1095.66,693.90" fill="none" stroke="#ff0000" stroke-width="14.3" stroke-dasharray="14.4 14.25" stroke-dashoffset="-37.45" stroke-linejoin="round"/>
<polyline clip-path="url(#rc27)" points="1095.66,693.90 1152.45,617.18 1244.72,503.75 1105.78,468.18 1059.46,402.63 911.79,446.76 831.76,465.88 757.00,521.00 742.50,459.50 692.65,377.50 613.13,267.13 518.87,242.08 416.81,241.78 405.59,370.15 379.00,432.00 441.88,556.89 468.23,616.60 416.30,647.79 394.72,693.90 194.04,777.10 207.35,861.05 276.67,921.17 356.49,960.83 475.82,938.44 561.30,909.19 649.00,821.00 652.22,910.90 692.65,1032.90 780.67,1166.30 875.82,1170.14 978.04,1161.67 934.43,966.57 946.95,895.83 889.00,797.00 839.64,744.53 980.17,741.88 1095.66,693.90" fill="none" stroke="#ff0000" stroke-width="14.3" stroke-dasharray="14.4 14.25" stroke-dashoffset="-35.95" stroke-linejoin="round"/>
<polyline clip-path="url(#rc28)" points="1095.66,693.90 1152.45,617.18 1244.72,503.75 1105.78,468.18 1059.46,402.63 911.79,446.76 831.76,465.88 757.00,521.00 742.50,459.50 692.65,377.50 613.13,267.13 518.87,242.08 416.81,241.78 405.59,370.15 379.00,432.00 441.88,556.89 468.23,616.60 416.30,647.79 394.72,693.90 194.04,777.10 207.35,861.05 276.67,921.17 356.49,960.83 475.82,938.44 561.30,909.19 649.00,821.00 652.22,910.90 692.65,1032.90 780.67,1166.30 875.82,1170.14 978.04,1161.67 934.43,966.57 946.95,895.83 889.00,797.00 839.64,744.53 980.17,741.88 1095.66,693.90" fill="none" stroke="#ff0000" stroke-width="14.3" stroke-dasharray="14.4 14.25" stroke-dashoffset="-36.65" stroke-linejoin="round"/>
<polyline clip-path="url(#rc29)" points="1095.66,693.90 1152.45,617.18 1244.72,503.75 1105.78,468.18 1059.46,402.63 911.79,446.76 831.76,465.88 757.00,521.00 742.50,459.50 692.65,377.50 613.13,267.13 518.87,242.08 416.81,241.78 405.59,370.15 379.00,432.00 441.88,556.89 468.23,616.60 416.30,647.79 394.72,693.90 194.04,777.10 207.35,861.05 276.67,921.17 356.49,960.83 475.82,938.44 561.30,909.19 649.00,821.00 652.22,910.90 692.65,1032.90 780.67,1166.30 875.82,1170.14 978.04,1161.67 934.43,966.57 946.95,895.83 889.00,797.00 839.64,744.53 980.17,741.88 1095.66,693.90" fill="none" stroke="#ff0000" stroke-width="14.3" stroke-dasharray="14.4 14.25" stroke-dashoffset="-39.75" stroke-linejoin="round"/>
<polyline clip-path="url(#rc30)" points="1095.66,693.90 1152.45,617.18 1244.72,503.75 1105.78,468.18 1059.46,402.63 911.79,446.76 831.76,465.88 757.00,521.00 742.50,459.50 692.65,377.50 613.13,267.13 518.87,242.08 416.81,241.78 405.59,370.15 379.00,432.00 441.88,556.89 468.23,616.60 416.30,647.79 394.72,693.90 194.04,777.10 207.35,861.05 276.67,921.17 356.49,960.83 475.82,938.44 561.30,909.19 649.00,821.00 652.22,910.90 692.65,1032.90 780.67,1166.30 875.82,1170.14 978.04,1161.67 934.43,966.57 946.95,895.83 889.00,797.00 839.64,744.53 980.17,741.88 1095.66,693.90" fill="none" stroke="#ff0000" stroke-width="14.3" stroke-dasharray="14.4 14.25" stroke-dashoffset="-36.25" stroke-linejoin="round"/>
<polyline clip-path="url(#rc31)" points="1095.66,693.90 1152.45,617.18 1244.72,503.75 1105.78,468.18 1059.46,402.63 911.79,446.76 831.76,465.88 757.00,521.00 742.50,459.50 692.65,377.50 613.13,267.13 518.87,242.08 416.81,241.78 405.59,370.15 379.00,432.00 441.88,556.89 468.23,616.60 416.30,647.79 394.72,693.90 194.04,777.10 207.35,861.05 276.67,921.17 356.49,960.83 475.82,938.44 561.30,909.19 649.00,821.00 652.22,910.90 692.65,1032.90 780.67,1166.30 875.82,1170.14 978.04,1161.67 934.43,966.57 946.95,895.83 889.00,797.00 839.64,744.53 980.17,741.88 1095.66,693.90" fill="none" stroke="#ff0000" stroke-width="14.3" stroke-dasharray="14.4 14.25" stroke-dashoffset="-34.05" stroke-linejoin="round"/>
<polyline clip-path="url(#rc32)" points="1095.66,693.90 1152.45,617.18 1244.72,503.75 1105.78,468.18 1059.46,402.63 911.79,446.76 831.76,465.88 757.00,521.00 742.50,459.50 692.65,377.50 613.13,267.13 518.87,242.08 416.81,241.78 405.59,370.15 379.00,432.00 441.88,556.89 468.23,616.60 416.30,647.79 394.72,693.90 194.04,777.10 207.35,861.05 276.67,921.17 356.49,960.83 475.82,938.44 561.30,909.19 649.00,821.00 652.22,910.90 692.65,1032.90 780.67,1166.30 875.82,1170.14 978.04,1161.67 934.43,966.57 946.95,895.83 889.00,797.00 839.64,744.53 980.17,741.88 1095.66,693.90" fill="none" stroke="#ff0000" stroke-width="14.3" stroke-dasharray="14.4 14.25" stroke-dashoffset="-32.84" stroke-linejoin="round"/>
<polyline clip-path="url(#rc33)" points="1095.66,693.90 1152.45,617.18 1244.72,503.75 1105.78,468.18 1059.46,402.63 911.79,446.76 831.76,465.88 757.00,521.00 742.50,459.50 692.65,377.50 613.13,267.13 518.87,242.08 416.81,241.78 405.59,370.15 379.00,432.00 441.88,556.89 468.23,616.60 416.30,647.79 394.72,693.90 194.04,777.10 207.35,861.05 276.67,921.17 356.49,960.83 475.82,938.44 561.30,909.19 649.00,821.00 652.22,910.90 692.65,1032.90 780.67,1166.30 875.82,1170.14 978.04,1161.67 934.43,966.57 946.95,895.83 889.00,797.00 839.64,744.53 980.17,741.88 1095.66,693.90" fill="none" stroke="#ff0000" stroke-width="14.3" stroke-dasharray="14.4 14.25" stroke-dashoffset="-31.75" stroke-linejoin="round"/>
<polyline clip-path="url(#rc34)" points="1095.66,693.90 1152.45,617.18 1244.72,503.75 1105.78,468.18 1059.46,402.63 911.79,446.76 831.76,465.88 757.00,521.00 742.50,459.50 692.65,377.50 613.13,267.13 518.87,242.08 416.81,241.78 405.59,370.15 379.00,432.00 441.88,556.89 468.23,616.60 416.30,647.79 394.72,693.90 194.04,777.10 207.35,861.05 276.67,921.17 356.49,960.83 475.82,938.44 561.30,909.19 649.00,821.00 652.22,910.90 692.65,1032.90 780.67,1166.30 875.82,1170.14 978.04,1161.67 934.43,966.57 946.95,895.83 889.00,797.00 839.64,744.53 980.17,741.88 1095.66,693.90" fill="none" stroke="#ff0000" stroke-width="14.3" stroke-dasharray="14.4 14.25" stroke-dashoffset="-45.70" stroke-linejoin="round"/>
<polyline clip-path="url(#rc35)" points="1095.66,693.90 1152.45,617.18 1244.72,503.75 1105.78,468.18 1059.46,402.63 911.79,446.76 831.76,465.88 757.00,521.00 742.50,459.50 692.65,377.50 613.13,267.13 518.87,242.08 416.81,241.78 405.59,370.15 379.00,432.00 441.88,556.89 468.23,616.60 416.30,647.79 394.72,693.90 194.04,777.10 207.35,861.05 276.67,921.17 356.49,960.83 475.82,938.44 561.30,909.19 649.00,821.00 652.22,910.90 692.65,1032.90 780.67,1166.30 875.82,1170.14 978.04,1161.67 934.43,966.57 946.95,895.83 889.00,797.00 839.64,744.53 980.17,741.88 1095.66,693.90" fill="none" stroke="#ff0000" stroke-width="14.3" stroke-dasharray="14.4 14.25" stroke-dashoffset="-46.80" stroke-linejoin="round"/>
<polyline points="1058.88,693.90 1157.45,616.34 1179.64,526.17 1132.36,453.66 1025.16,429.87 901.81,458.02 816.42,491.03 776.17,476.75 741.22,433.22 692.65,341.90 611.78,259.90 509.07,216.60 445.47,288.76 417.87,384.00 436.52,490.52 500.82,589.09 493.48,625.30 413.95,647.40 312.93,693.90 230.50,771.02 200.05,863.57 272.28,923.57 371.58,948.85 494.24,917.67 575.63,885.71 621.59,878.66 643.71,956.53 692.65,1043.63 775.80,1140.15 863.16,1137.22 939.53,1098.55 972.42,1009.42 942.37,892.19 890.17,801.82 914.26,770.23 993.70,744.13 1058.88,693.90" fill="none" stroke="#993300" stroke-width="6.7" stroke-linejoin="round"/>
<polygon points="1040.13,683.25 1077.63,683.25 1058.88,712.00" fill="none" stroke="#993300" stroke-width="7.1"/>
<polygon points="1138.70,605.69 1176.20,605.69 1157.45,634.44" fill="none" stroke="#993300" stroke-width="7.1"/>
<polygon points="1160.89,515.52 1198.39,515.52 1179.64,544.27" fill="none" stroke="#993300" stroke-width="7.1"/>
<polygon points="1113.61,443.01 1151.11,443.01 1132.36,471.76" fill="none" stroke="#993300" stroke-width="7.1"/>
<polygon points="1006.41,419.22 1043.91,419.22 1025.16,447.97" fill="none" stroke="#993300" stroke-width="7.1"/>
<polygon points="883.06,447.37 920.56,447.37 901.81,476.12" fill="none" stroke="#993300" stroke-width="7.1"/>
<polygon points="797.67,480.38 835.17,480.38 816.42,509.13" fill="none" stroke="#993300" stroke-width="7.1"/>
<polygon points="757.42,466.10 794.92,466.10 776.17,494.85" fill="none" stroke="#993300" stroke-width="7.1"/>
<polygon points="722.47,422.57 759.97,422.57 741.22,451.32" fill="none" stroke="#993300" stroke-width="7.1"/>
<polygon points="673.90,331.25 711.40,331.25 692.65,360.00" fill="none" stroke="#993300" stroke-width="7.1"/>
<polygon points="593.03,249.25 630.53,249.25 611.78,278.00" fill="none" stroke="#993300" stroke-width="7.1"/>
<polygon points="490.32,205.95 527.82,205.95 509.07,234.70" fill="none" stroke="#993300" stroke-width="7.1"/>
<polygon points="426.72,278.11 464.22,278.11 445.47,306.86" fill="none" stroke="#993300" stroke-width="7.1"/>
<polygon points="399.12,373.35 436.62,373.35 417.87,402.10" fill="none" stroke="#993300" stroke-width="7.1"/>
<polygon points="417.77,479.87 455.27,479.87 436.52,508.62" fill="none" stroke="#993300" stroke-width="7.1"/>
<polygon points="482.07,578.44 519.57,578.44 500.82,607.19" fill="none" stroke="#993300" stroke-width="7.1"/>
<polygon points="474.73,614.65 512.23,614.65 493.48,643.40" fill="none" stroke="#993300" stroke-width="7.1"/>
<polygon points="395.20,636.75 432.70,636.75 413.95,665.50" fill="none" stroke="#993300" stroke-width="7.1"/>
<polygon points="294.18,683.25 331.68,683.25 312.93,712.00" fill="none" stroke="#993300" stroke-width="7.1"/>
<polygon points="211.75,760.37 249.25,760.37 230.50,789.12" fill="none" stroke="#993300" stroke-width="7.1"/>
<polygon points="181.30,852.92 218.80,852.92 200.05,881.67" fill="none" stroke="#993300" stroke-width="7.1"/>
<polygon points="253.53,912.92 291.03,912.92 272.28,941.67" fill="none" stroke="#993300" stroke-width="7.1"/>
<polygon points="352.83,938.20 390.33,938.20 371.58,966.95" fill="none" stroke="#993300" stroke-width="7.1"/>
<polygon points="475.49,907.02 512.99,907.02 494.24,935.77" fill="none" stroke="#993300" stroke-width="7.1"/>
<polygon points="556.88,875.06 594.38,875.06 575.63,903.81" fill="none" stroke="#993300" stroke-width="7.1"/>
<polygon points="602.84,868.01 640.34,868.01 621.59,896.76" fill="none" stroke="#993300" stroke-width="7.1"/>
<polygon points="624.96,945.88 662.46,945.88 643.71,974.63" fill="none" stroke="#993300" stroke-width="7.1"/>
<polygon points="673.90,1032.98 711.40,1032.98 692.65,1061.73" fill="none" stroke="#993300" stroke-width="7.1"/>
<polygon points="757.05,1129.50 794.55,1129.50 775.80,1158.25" fill="none" stroke="#993300" stroke-width="7.1"/>
<polygon points="844.41,1126.57 881.91,1126.57 863.16,1155.32" fill="none" stroke="#993300" stroke-width="7.1"/>
<polygon points="920.78,1087.90 958.28,1087.90 939.53,1116.65" fill="none" stroke="#993300" stroke-width="7.1"/>
<polygon points="953.67,998.77 991.17,998.77 972.42,1027.52" fill="none" stroke="#993300" stroke-width="7.1"/>
<polygon points="923.62,881.54 961.12,881.54 942.37,910.29" fill="none" stroke="#993300" stroke-width="7.1"/>
<polygon points="871.42,791.17 908.92,791.17 890.17,819.92" fill="none" stroke="#993300" stroke-width="7.1"/>
<polygon points="895.51,759.58 933.01,759.58 914.26,788.33" fill="none" stroke="#993300" stroke-width="7.1"/>
<polygon points="974.95,733.48 1012.45,733.48 993.70,762.23" fill="none" stroke="#993300" stroke-width="7.1"/>
<polyline points="1064.02,693.90 1152.45,617.18 1181.88,525.39 1125.95,457.17 1016.92,436.41 898.93,461.26 814.00,495.00 770.15,492.41 741.07,434.05 692.65,339.64 611.57,258.78 514.58,230.93 442.49,283.86 420.55,387.03 446.82,498.69 482.46,579.06 479.73,620.56 418.06,648.08 319.49,693.90 232.85,770.62 203.42,862.41 259.35,930.63 368.38,951.39 486.37,926.54 571.30,892.80 615.15,895.39 644.23,953.75 692.65,1043.63 773.73,1129.02 870.72,1156.87 942.81,1103.94 964.75,1000.77 938.48,889.11 902.84,808.74 905.57,767.24 967.24,739.72 1064.02,693.90" fill="none" stroke="#000" stroke-width="14.3" stroke-linejoin="round"/>
<rect x="983.6" y="2.5" width="413.30" height="319.40" fill="#fff" stroke="#000" stroke-width="2.7"/>
<line x1="1013.4" y1="47.5" x2="1162.8" y2="47.5" stroke="#0000ff" stroke-width="14.3" stroke-dasharray="45 14.8"/>
<line x1="1013.4" y1="121.6" x2="1148"  y2="121.6" stroke="#ff0000" stroke-width="14.3" stroke-dasharray="15 14.8"/>
<line x1="1013.4" y1="199.4" x2="1162.8" y2="199.4" stroke="#993300" stroke-width="6.7"/>
<polygon points="1069.25,188.75 1106.75,188.75 1088.00,217.50" fill="none" stroke="#993300" stroke-width="7.1"/>
<line x1="1013.4" y1="274" x2="1162.8" y2="274" stroke="#000" stroke-width="14.3"/>
<text transform="translate(1178.20,70.0) scale(1.0504,1)" x="-1.77" y="0" font-family="Liberation Serif, serif" font-size="61.5">PSO</text>
<text transform="translate(1178.20,147.6) scale(1.0210,1)" x="-1.77" y="0" font-family="Liberation Serif, serif" font-size="61.5">PSOSA</text>
<text transform="translate(1178.20,225.3) scale(1.0294,1)" x="-1.77" y="0" font-family="Liberation Serif, serif" font-size="61.5">PSOEO</text>
<text transform="translate(1179.10,303.4) scale(1.0111,1)" x="-1.77" y="0" font-family="Liberation Serif, serif" font-size="61.5">Exact</text>
</svg></body></html>
